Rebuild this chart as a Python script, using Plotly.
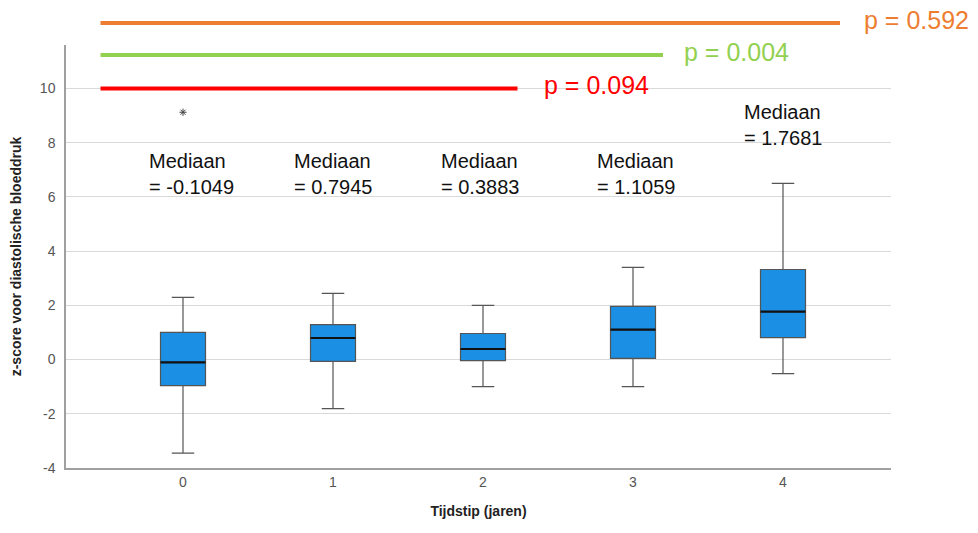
import plotly.graph_objects as go

# ---- data ----
categories = [0, 1, 2, 3, 4]
lower_whisker = [-3.45, -1.81, -1.0, -1.0, -0.52]
q1 = [-0.96, -0.07, -0.04, 0.04, 0.81]
median = [-0.1049, 0.7945, 0.3883, 1.1059, 1.7681]
q3 = [1.0, 1.29, 0.96, 1.96, 3.32]
upper_whisker = [2.29, 2.44, 2.0, 3.40, 6.5]
outlier_x = [0]
outlier_y = [9.12]
median_labels = ["Mediaan<br>= -0.1049", "Mediaan<br>= 0.7945", "Mediaan<br>= 0.3883",
                 "Mediaan<br>= 1.1059", "Mediaan<br>= 1.7681"]
label_x = [-0.24, 0.727, 1.707, 2.747, 3.727]
label_y = [7.8, 7.8, 7.8, 7.8, 9.6]

p_texts = ["p = 0.094", "p = 0.004", "p = 0.592"]
p_colors = ["#FF0000", "#92D050", "#ED7D31"]
p_line_x0 = [-0.55, -0.55, -0.55]
p_line_x1 = [2.23, 3.2, 4.38]
p_line_y = [10.0, 11.23, 12.41]
p_text_x = [2.4, 3.33, 4.53]

y_ticks = [-4, -2, 0, 2, 4, 6, 8, 10]
y_ticktext = ["-4", "-2", "0", "2", "4", "6", "8", "10"]

XR = [-0.78, 4.72]
YR = [-4, 11.6]
BOX_W = 0.3


def px(x):
    return (x - XR[0]) / (XR[1] - XR[0])


def py(y):
    return (y - YR[0]) / (YR[1] - YR[0])


fig = go.Figure()
fig.add_trace(go.Box(
    x=categories, q1=q1, median=median, q3=q3,
    lowerfence=lower_whisker, upperfence=upper_whisker,
    width=BOX_W, whiskerwidth=0.5,
    fillcolor="#1A8FE3", line=dict(color="#555555", width=1.2),
    boxpoints=False, showlegend=False, hoverinfo="skip",
))
# thicker black median lines
for c, m in zip(categories, median):
    fig.add_trace(go.Scatter(
        x=[c - BOX_W / 2, c + BOX_W / 2], y=[m, m], mode="lines",
        line=dict(color="#111111", width=2.2), showlegend=False, hoverinfo="skip"))
fig.add_trace(go.Scatter(
    x=outlier_x, y=outlier_y, mode="markers",
    marker=dict(symbol="asterisk-open", size=6, color="#444444",
                line=dict(color="#444444", width=1)),
    showlegend=False, hoverinfo="skip"))

annotations = []
for t, x, y in zip(median_labels, label_x, label_y):
    annotations.append(dict(
        x=x, y=y, xref="x", yref="y", text=t, showarrow=False,
        xanchor="left", yanchor="top", align="left",
        font=dict(family="Liberation Sans, Arial", size=20, color="#111")))

shapes = []
for t, c, x0, x1, y, tx in zip(p_texts, p_colors, p_line_x0, p_line_x1, p_line_y, p_text_x):
    shapes.append(dict(type="line", xref="paper", yref="paper",
                       x0=px(x0), x1=px(x1), y0=py(y), y1=py(y),
                       line=dict(color=c, width=4)))
    annotations.append(dict(
        x=px(tx), y=py(y) + 0.008, xref="paper", yref="paper", text=t, showarrow=False,
        xanchor="left", yanchor="middle", borderpad=0,
        font=dict(family="Liberation Sans, Arial", size=25, color=c)))

fig.update_layout(
    width=970, height=525,
    margin=dict(l=58, r=87, t=37, b=65),
    paper_bgcolor="white", plot_bgcolor="white",
    annotations=annotations, shapes=shapes,
    font=dict(family="Liberation Sans Narrow, Liberation Sans, Arial"),
)
fig.update_xaxes(
    range=XR, tickvals=categories, ticktext=[str(c) for c in categories],
    showgrid=False, zeroline=False, showline=True, linecolor="#a0a0a0", linewidth=1.5,
    ticks="", tickfont=dict(size=14, color="#555"), automargin=False,
    title=dict(text="<b>Tijdstip (jaren)</b>", font=dict(size=14, color="#222"), standoff=18),
)
fig.update_yaxes(
    range=YR, tickvals=y_ticks, ticktext=y_ticktext,
    showgrid=True, gridcolor="#d9d9d9", gridwidth=1.2,
    zeroline=False, showline=True, linecolor="#a0a0a0", linewidth=1.5,
    ticks="", tickfont=dict(size=14, color="#555"), ticklabelstandoff=6, automargin=False,
    title=dict(text="<b>z-score voor diastolische bloeddruk</b>", font=dict(size=14, color="#222"), standoff=18),
)

fig.write_html("out.html")
